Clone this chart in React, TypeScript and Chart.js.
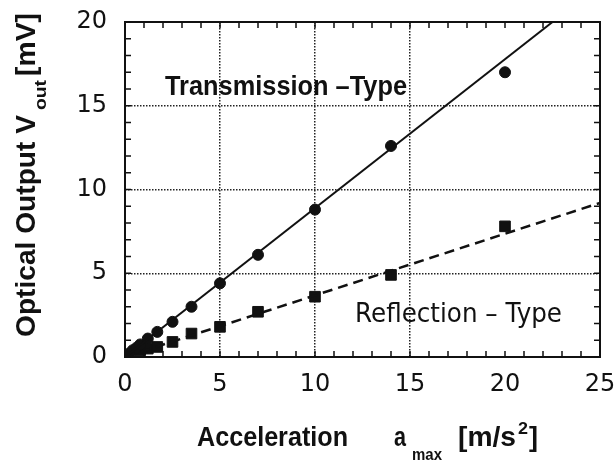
import { useEffect, useRef } from 'react';
import { Chart, registerables } from 'chart.js';

Chart.register(...registerables);

// Transmission-type measurements (circles)
const transX = [0.2, 0.4, 0.6, 0.8, 1.2, 1.7, 2.5, 3.5, 5, 7, 10, 14, 20];
const transY = [0.2, 0.4, 0.55, 0.75, 1.1, 1.5, 2.1, 3.0, 4.4, 6.1, 8.8, 12.6, 17.0];
// Reflection-type measurements (squares)
const reflX = [0.8, 1.2, 1.7, 2.5, 3.5, 5, 7, 10, 14, 20];
const reflY = [0.4, 0.5, 0.6, 0.9, 1.4, 1.8, 2.7, 3.6, 4.9, 7.8];
// Fitted lines
const transFitX = [0, 22.5];
const transFitY = [0, 20];
const reflFitX = [0, 25];
const reflFitY = [0, 9.2];
// Axes
const xRange = [0, 25];
const yRange = [0, 20];
const majorStep = 5;
const minorStep = 1;

const pts = (xs: number[], ys: number[]) => xs.map((x, i) => ({ x, y: ys[i] }));

function fitText(ctx: CanvasRenderingContext2D, text: string, x: number, y: number, font: string, width?: number) {
  ctx.font = font;
  const w = ctx.measureText(text).width;
  ctx.save();
  ctx.translate(x, y);
  if (width) ctx.scale(width / w, 1);
  ctx.fillText(text, 0, 0);
  ctx.restore();
}

const decorPlugin = {
  id: 'decor',
  afterDraw(chart: any) {
    const ctx: CanvasRenderingContext2D = chart.ctx;
    const { left, right, top, bottom } = chart.chartArea;
    const xs = chart.scales.x;
    const ys = chart.scales.y;
    ctx.save();
    ctx.strokeStyle = '#111';
    ctx.fillStyle = '#111';
    // frame
    ctx.lineWidth = 2;
    ctx.strokeRect(left, top, right - left, bottom - top);
    // minor inward ticks
    ctx.lineWidth = 1.5;
    ctx.beginPath();
    for (let v = xRange[0]; v <= xRange[1]; v += minorStep) {
      const px = xs.getPixelForValue(v);
      ctx.moveTo(px, bottom); ctx.lineTo(px, bottom - 6);
      ctx.moveTo(px, top); ctx.lineTo(px, top + 6);
    }
    for (let v = yRange[0]; v <= yRange[1]; v += minorStep) {
      const py = ys.getPixelForValue(v);
      ctx.moveTo(left, py); ctx.lineTo(left + 6, py);
      ctx.moveTo(right, py); ctx.lineTo(right - 6, py);
    }
    ctx.stroke();

    ctx.textBaseline = 'alphabetic';
    ctx.textAlign = 'left';
    // annotations
    fitText(ctx, 'Transmission \u2013Type', 165, 95, 'bold 27px "Liberation Sans"', 242);
    fitText(ctx, 'Reflection \u2013 Type', 355, 322, '27px "DejaVu Sans"', 207);

    // x title
    fitText(ctx, 'Acceleration', 197, 446, 'bold 28px "Liberation Sans"', 151);
    fitText(ctx, 'a', 394, 446, 'bold 28px "Liberation Sans"', 12);
    fitText(ctx, 'max', 412, 460, 'bold 16px "Liberation Sans"', 30);
    fitText(ctx, '[m/s', 458, 446, 'bold 28px "Liberation Sans"', 58);
    fitText(ctx, '2', 518, 434, 'bold 17px "Liberation Sans"', 10);
    fitText(ctx, ']', 529, 446, 'bold 28px "Liberation Sans"', 9);

    // y title (rotated)
    ctx.save();
    ctx.translate(35, 0);
    ctx.rotate(-Math.PI / 2);
    fitText(ctx, 'Optical Output V', -337, 0, 'bold 28px "Liberation Sans"', 222);
    fitText(ctx, 'out', -110, 11, 'bold 16px "Liberation Sans"', 30);
    fitText(ctx, '[mV]', -76, 0, 'bold 28px "Liberation Sans"', 63);
    ctx.restore();

    ctx.restore();
  },
};

export default function App() {
  const ref = useRef<HTMLCanvasElement | null>(null);
  useEffect(() => {
    if (!ref.current) return;
    const gridColor = (c: any) => {
      const v = c.tick && c.tick.value;
      return v === xRange[0] || v === xRange[1] || v === yRange[1] ? 'rgba(0,0,0,0)' : '#222';
    };
    const chart = new Chart(ref.current, {
      type: 'scatter',
      data: {
        datasets: [
          {
            label: 'Transmission fit',
            data: pts(transFitX, transFitY),
            showLine: true,
            borderColor: '#111',
            borderWidth: 2,
            pointRadius: 0,
          },
          {
            label: 'Reflection fit',
            data: pts(reflFitX, reflFitY),
            showLine: true,
            borderColor: '#111',
            borderWidth: 2.5,
            borderDash: [10, 6],
            pointRadius: 0,
          },
          {
            label: 'Transmission-Type',
            data: pts(transX, transY),
            pointStyle: 'circle',
            pointRadius: 5.5,
            backgroundColor: '#111',
            borderColor: '#111',
          },
          {
            label: 'Reflection-Type',
            data: pts(reflX, reflY),
            pointStyle: 'rect',
            pointRadius: 7.5,
            backgroundColor: '#111',
            borderColor: '#111',
          },
        ],
      },
      options: {
        animation: false,
        responsive: false,
        layout: { padding: { top: 22, right: 15, left: 0, bottom: 0 } },
        plugins: { legend: { display: false }, tooltip: { enabled: false } },
        scales: {
          x: {
            type: 'linear',
            min: xRange[0],
            max: xRange[1],
            afterFit: (s: any) => {
              s.height = 106;
              s.paddingLeft = 0;
              s.paddingRight = 0;
            },
            ticks: {
              stepSize: majorStep,
              color: '#111',
              padding: 13,
              font: { family: '"DejaVu Sans"', size: 24 },
              maxRotation: 0,
            },
            grid: { color: gridColor, lineWidth: 1.5, drawTicks: false },
            border: { display: false, dash: [1.5, 1.5] },
          },
          y: {
            type: 'linear',
            min: yRange[0],
            max: yRange[1],
            afterFit: (s: any) => {
              s.width = 125;
              s.paddingTop = 0;
              s.paddingBottom = 0;
            },
            ticks: {
              stepSize: majorStep,
              color: '#111',
              padding: 18,
              font: { family: '"DejaVu Sans"', size: 24 },
            },
            grid: { color: gridColor, lineWidth: 1.5, drawTicks: false },
            border: { display: false, dash: [1.5, 1.5] },
          },
        },
      },
      plugins: [decorPlugin],
    } as any);
    return () => chart.destroy();
  }, []);
  return (
    <div style={{ position: 'fixed', left: 0, top: 0, width: 615, height: 463, background: '#fff' }}>
      <canvas ref={ref} width={615} height={463} />
    </div>
  );
}
